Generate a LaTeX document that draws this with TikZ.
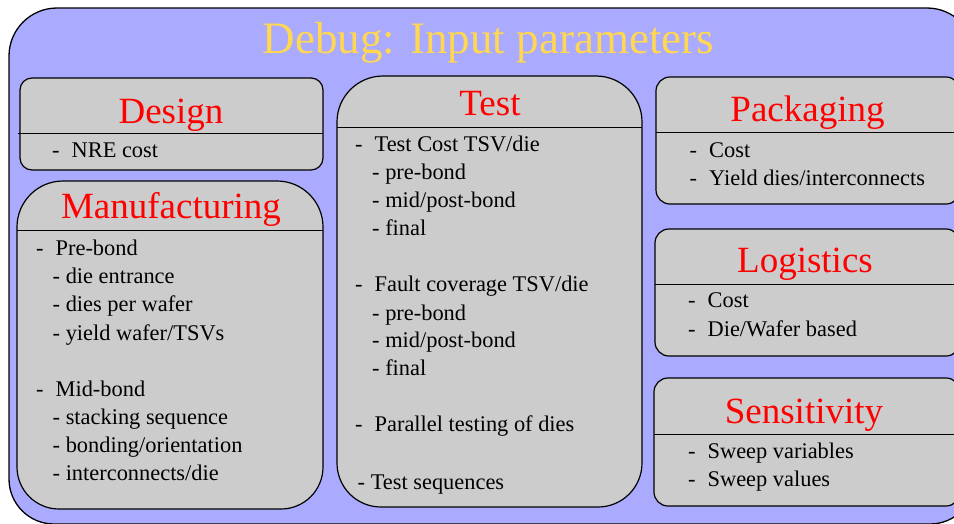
\documentclass[tikz,border=0pt]{standalone}
\usepackage{fontspec}
\setmainfont{Liberation Serif}
\definecolor{outerblue}{RGB}{170,170,255}
\definecolor{boxgray}{RGB}{204,204,204}
\definecolor{titleyellow}{RGB}{255,215,80}
\definecolor{headred}{RGB}{255,0,0}
% #2 l, #3 t, #4 r, #5 b (pixels, y downwards), #6 top radius, #7 bottom radius
\newcommand\rrbox[7][]{%
  \path[#1] (#2,-#3-#6) arc[start angle=180,end angle=90,radius=#6pt]
    -- (#4-#6,-#3) arc[start angle=90,end angle=0,radius=#6pt]
    -- (#4,-#5+#7) arc[start angle=0,end angle=-90,radius=#7pt]
    -- (#2+#7,-#5) arc[start angle=270,end angle=180,radius=#7pt] -- cycle;}
\begin{document}
\begin{tikzpicture}[x=1pt,y=1pt,
  outerbox/.style={draw=black,line width=1.3pt,fill=outerblue},
  graybox/.style={draw=black,line width=1.2pt,fill=boxgray},
  divider/.style={draw=black,line width=1pt},
  maintitle/.style={inner sep=0pt,anchor=base,text=titleyellow,font=\fontsize{45}{50}\selectfont},
  head/.style={inner sep=0pt,anchor=base,text=headred,font=\fontsize{37}{42}\selectfont},
  item/.style={inner sep=0pt,anchor=base west,text=black,font=\fontsize{22.4}{26}\selectfont}]
\useasboundingbox (0,0) rectangle (954,-523);
\clip (0,0) rectangle (954,-523);
% outer frame
\rrbox[outerbox]{9}{8}{975}{524}{48}{45}
\node[maintitle] (title) at (488.5,-53) {Debug: Input parameters};
% Design
\rrbox[graybox]{20}{78}{323}{170}{12}{12}
\draw[divider] (18,-133) -- (323,-133);
\node[head] (hdesign) at (171,-123) {Design};
\node[item] (d1) at (52,-157) {-\hspace{12pt}NRE cost};
% Manufacturing
\rrbox[graybox]{17}{181}{323}{509}{46}{42}
\draw[divider] (17,-230.5) -- (323,-230.5);
\node[head] (hmanu) at (171,-218) {Manufacturing};
\node[item] (m1) at (36,-255) {-\hspace{12pt}Pre-bond};
\node[item] (m2) at (52.5,-283.3) {- die entrance};
\node[item] (m3) at (52.5,-311.7) {- dies per wafer};
\node[item] (m4) at (52.5,-340) {- yield wafer/TSVs};
\node[item] (m5) at (36,-396.7) {-\hspace{12pt}Mid-bond};
\node[item] (m6) at (52.5,-424.3) {- stacking sequence};
\node[item] (m7) at (52.5,-452.7) {- bonding/orientation};
\node[item] (m8) at (52.5,-480.7) {- interconnects/die};
% Test
\rrbox[graybox]{337}{76}{642}{507}{46}{44}
\draw[divider] (337,-127) -- (642,-127);
\node[head] (htest) at (490,-115) {Test};
\node[item] (t1) at (355,-151) {-\hspace{12pt}Test Cost TSV/die};
\node[item] (t2) at (372,-179.3) {- pre-bond};
\node[item] (t3) at (372,-207.3) {- mid/post-bond};
\node[item] (t4) at (372,-235) {- final};
\node[item] (t5) at (355,-291.7) {-\hspace{12pt}Fault coverage TSV/die};
\node[item] (t6) at (372,-320) {- pre-bond};
\node[item] (t7) at (372,-347.7) {- mid/post-bond};
\node[item] (t8) at (372,-375) {- final};
\node[item] (t9) at (355,-431.7) {-\hspace{12pt}Parallel testing of dies};
\node[item] (t10) at (357.5,-489.3) {- Test sequences};
% Packaging
\rrbox[graybox]{656}{77}{960}{204}{14}{14}
\draw[divider] (656,-132) -- (960,-132);
\node[head] (hpack) at (807.5,-121.7) {Packaging};
\node[item] (p1) at (689.5,-157.3) {-\hspace{12pt}Cost};
\node[item] (p2) at (689.5,-185) {-\hspace{12pt}Yield dies/interconnects};
% Logistics
\rrbox[graybox]{655}{229}{960}{356}{14}{14}
\draw[divider] (655,-284) -- (960,-284);
\node[head] (hlog) at (805,-272.7) {Logistics};
\node[item] (l1) at (688,-307.7) {-\hspace{12pt}Cost};
\node[item] (l2) at (688,-336.7) {-\hspace{12pt}Die/Wafer based};
% Sensitivity
\rrbox[graybox]{654}{378}{960}{506}{14}{14}
\draw[divider] (654,-434) -- (960,-434);
\node[head] (hsens) at (804,-423.3) {Sensitivity};
\node[item] (s1) at (688,-458.3) {-\hspace{12pt}Sweep variables};
\node[item] (s2) at (688,-486) {-\hspace{12pt}Sweep values};
\end{tikzpicture}
\end{document}
